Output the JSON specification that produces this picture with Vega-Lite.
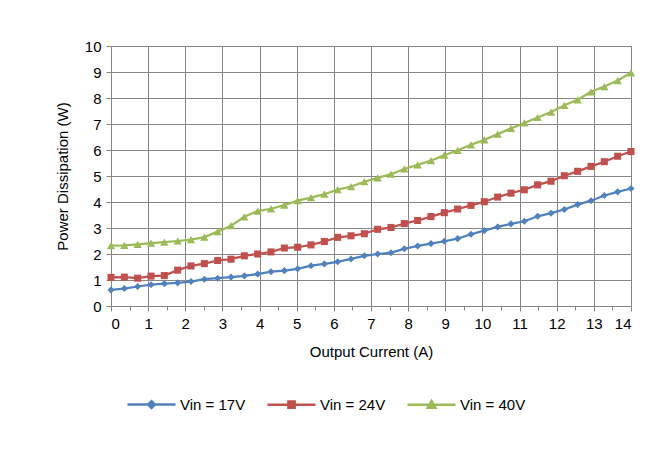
{
  "$schema": "https://vega.github.io/schema/vega-lite/v6.json",
  "width": 520,
  "height": 260,
  "autosize": {"type": "none"},
  "padding": {"left": 111, "top": 46, "right": 37, "bottom": 143},
  "background": "white",
  "config": {
    "font": "Liberation Sans",
    "view": {"stroke": "#868686", "strokeWidth": 1},
    "axis": {
      "labelFont": "Liberation Sans",
      "titleFont": "Liberation Sans",
      "labelFontSize": 15,
      "titleFontSize": 15,
      "titleFontWeight": "normal",
      "labelColor": "#000000",
      "titleColor": "#000000",
      "gridColor": "#868686",
      "gridOpacity": 1,
      "domainColor": "#868686",
      "tickColor": "#868686"
    },
    "legend": {"labelFont": "Liberation Sans", "labelFontSize": 15, "labelColor": "#000000"}
  },
  "data": {
    "values": [
      {"current": 0.000, "Vin = 17V": 0.62, "Vin = 24V": 1.10, "Vin = 40V": 2.32},
      {"current": 0.359, "Vin = 17V": 0.67, "Vin = 24V": 1.11, "Vin = 40V": 2.33},
      {"current": 0.718, "Vin = 17V": 0.75, "Vin = 24V": 1.07, "Vin = 40V": 2.37},
      {"current": 1.077, "Vin = 17V": 0.82, "Vin = 24V": 1.15, "Vin = 40V": 2.42},
      {"current": 1.436, "Vin = 17V": 0.86, "Vin = 24V": 1.17, "Vin = 40V": 2.46},
      {"current": 1.795, "Vin = 17V": 0.89, "Vin = 24V": 1.38, "Vin = 40V": 2.50},
      {"current": 2.154, "Vin = 17V": 0.94, "Vin = 24V": 1.54, "Vin = 40V": 2.55},
      {"current": 2.513, "Vin = 17V": 1.03, "Vin = 24V": 1.63, "Vin = 40V": 2.65},
      {"current": 2.872, "Vin = 17V": 1.07, "Vin = 24V": 1.75, "Vin = 40V": 2.86},
      {"current": 3.231, "Vin = 17V": 1.11, "Vin = 24V": 1.80, "Vin = 40V": 3.09},
      {"current": 3.590, "Vin = 17V": 1.16, "Vin = 24V": 1.93, "Vin = 40V": 3.43},
      {"current": 3.949, "Vin = 17V": 1.23, "Vin = 24V": 2.00, "Vin = 40V": 3.65},
      {"current": 4.308, "Vin = 17V": 1.32, "Vin = 24V": 2.08, "Vin = 40V": 3.74},
      {"current": 4.667, "Vin = 17V": 1.36, "Vin = 24V": 2.23, "Vin = 40V": 3.88},
      {"current": 5.026, "Vin = 17V": 1.43, "Vin = 24V": 2.26, "Vin = 40V": 4.05},
      {"current": 5.385, "Vin = 17V": 1.55, "Vin = 24V": 2.35, "Vin = 40V": 4.17},
      {"current": 5.744, "Vin = 17V": 1.62, "Vin = 24V": 2.48, "Vin = 40V": 4.30},
      {"current": 6.103, "Vin = 17V": 1.70, "Vin = 24V": 2.64, "Vin = 40V": 4.48},
      {"current": 6.462, "Vin = 17V": 1.81, "Vin = 24V": 2.70, "Vin = 40V": 4.59},
      {"current": 6.821, "Vin = 17V": 1.93, "Vin = 24V": 2.78, "Vin = 40V": 4.78},
      {"current": 7.179, "Vin = 17V": 2.00, "Vin = 24V": 2.95, "Vin = 40V": 4.93},
      {"current": 7.538, "Vin = 17V": 2.05, "Vin = 24V": 3.02, "Vin = 40V": 5.07},
      {"current": 7.897, "Vin = 17V": 2.20, "Vin = 24V": 3.17, "Vin = 40V": 5.27},
      {"current": 8.256, "Vin = 17V": 2.31, "Vin = 24V": 3.29, "Vin = 40V": 5.43},
      {"current": 8.615, "Vin = 17V": 2.40, "Vin = 24V": 3.44, "Vin = 40V": 5.59},
      {"current": 8.974, "Vin = 17V": 2.49, "Vin = 24V": 3.59, "Vin = 40V": 5.80},
      {"current": 9.333, "Vin = 17V": 2.59, "Vin = 24V": 3.73, "Vin = 40V": 5.99},
      {"current": 9.692, "Vin = 17V": 2.76, "Vin = 24V": 3.87, "Vin = 40V": 6.20},
      {"current": 10.051, "Vin = 17V": 2.90, "Vin = 24V": 4.01, "Vin = 40V": 6.39},
      {"current": 10.410, "Vin = 17V": 3.04, "Vin = 24V": 4.19, "Vin = 40V": 6.61},
      {"current": 10.769, "Vin = 17V": 3.16, "Vin = 24V": 4.34, "Vin = 40V": 6.83},
      {"current": 11.128, "Vin = 17V": 3.26, "Vin = 24V": 4.47, "Vin = 40V": 7.04},
      {"current": 11.487, "Vin = 17V": 3.45, "Vin = 24V": 4.66, "Vin = 40V": 7.25},
      {"current": 11.846, "Vin = 17V": 3.57, "Vin = 24V": 4.80, "Vin = 40V": 7.46},
      {"current": 12.205, "Vin = 17V": 3.71, "Vin = 24V": 5.01, "Vin = 40V": 7.72},
      {"current": 12.564, "Vin = 17V": 3.90, "Vin = 24V": 5.18, "Vin = 40V": 7.93},
      {"current": 12.923, "Vin = 17V": 4.05, "Vin = 24V": 5.37, "Vin = 40V": 8.24},
      {"current": 13.282, "Vin = 17V": 4.25, "Vin = 24V": 5.55, "Vin = 40V": 8.44},
      {"current": 13.641, "Vin = 17V": 4.39, "Vin = 24V": 5.76, "Vin = 40V": 8.67},
      {"current": 14.000, "Vin = 17V": 4.52, "Vin = 24V": 5.94, "Vin = 40V": 8.97}
    ]
  },
  "transform": [
    {"fold": ["Vin = 17V", "Vin = 24V", "Vin = 40V"], "as": ["series", "power"]}
  ],
  "encoding": {
    "y": {
      "field": "power",
      "type": "quantitative",
      "scale": {"domain": [0, 10], "nice": false, "zero": true},
      "axis": {
        "values": [0, 1, 2, 3, 4, 5, 6, 7, 8, 9, 10],
        "grid": true,
        "tickSize": 5,
        "labelPadding": 5,
        "title": "Power Dissipation (W)",
        "titlePadding": 14
      }
    },
    "color": {
      "field": "series",
      "type": "nominal",
      "scale": {"domain": ["Vin = 17V", "Vin = 24V", "Vin = 40V"], "range": ["#4F81BD", "#C0504D", "#9BBB59"]},
      "legend": {
        "title": null,
        "orient": "none",
        "direction": "horizontal",
        "legendX": 15,
        "legendY": 333,
        "padding": 0,
        "symbolSize": 2304,
        "symbolStrokeWidth": 2.5,
        "labelOffset": 3,
        "columnPadding": 16,
        "encode": {
          "symbols": {
            "update": {
              "shape": {"signal": "datum.label == 'Vin = 17V' ? 'M-1,0H1M0,-0.14L0.14,0L0,0.14L-0.14,0Z' : datum.label == 'Vin = 24V' ? 'M-1,0H1M-0.13,-0.13H0.13V0.13H-0.13Z' : 'M-1,0H1M0,-0.16L0.16,0.12H-0.16Z'"},
              "fill": {"scale": "color", "field": "value"},
              "stroke": {"scale": "color", "field": "value"},
              "strokeWidth": {"value": 2.5},
              "opacity": {"value": 1}
            }
          }
        }
      }
    }
  },
  "layer": [
    {
      "mark": {"type": "line", "strokeWidth": 2.25},
      "encoding": {
        "x": {
          "field": "current",
          "type": "quantitative",
          "scale": {"domain": [0, 14], "nice": false},
          "axis": {
            "values": [0, 1, 2, 3, 4, 5, 6, 7, 8, 9, 10, 11, 12, 13, 14],
            "grid": true,
            "tickSize": 5,
            "labelPadding": 5,
            "title": "Output Current (A)",
            "titlePadding": 13
          }
        }
      }
    },
    {
      "transform": [{"filter": "datum.series == 'Vin = 17V'"}],
      "mark": {"type": "point", "filled": true, "opacity": 1, "shape": "diamond", "size": 50},
      "encoding": {
        "x": {
          "field": "current",
          "type": "quantitative",
          "axis": {
            "values": [0.5, 1.5, 2.5, 3.5, 4.5, 5.5, 6.5, 7.5, 8.5, 9.5, 10.5, 11.5, 12.5, 13.5],
            "grid": false,
            "domain": false,
            "labels": false,
            "tickSize": 4,
            "title": null,
            "orient": "bottom"
          }
        }
      }
    },
    {
      "transform": [{"filter": "datum.series == 'Vin = 24V'"}],
      "mark": {"type": "point", "filled": true, "opacity": 1, "shape": "square", "size": 50},
      "encoding": {
        "x": {"field": "current", "type": "quantitative", "axis": null}
      }
    },
    {
      "transform": [{"filter": "datum.series == 'Vin = 40V'"}],
      "mark": {"type": "point", "filled": true, "opacity": 1, "shape": "triangle-up", "size": 70},
      "encoding": {
        "x": {"field": "current", "type": "quantitative", "axis": null}
      }
    }
  ],
  "resolve": {"axis": {"x": "independent"}}
}
